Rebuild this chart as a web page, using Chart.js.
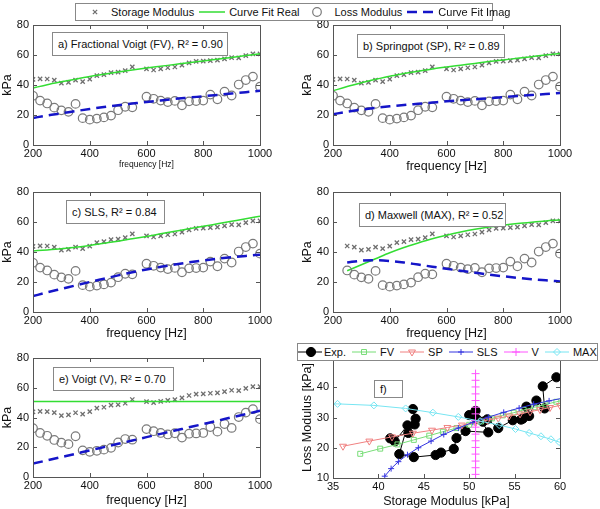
<!DOCTYPE html>
<html>
<head>
<meta charset="utf-8">
<script src="https://cdn.jsdelivr.net/npm/chart.js@4.4.0/dist/chart.umd.min.js"></script>
<style>
body { margin:0; background:#fff; width:600px; height:509px; position:relative; overflow:hidden; font-family:"Liberation Sans", Arial, sans-serif; color:#111; }
canvas { position:absolute; }
.note { position:absolute; background:#fff; border:1px solid #888; font-size:11px; box-sizing:border-box; padding-left:5px; white-space:nowrap; display:flex; align-items:center; z-index:2; }
.legend { position:absolute; background:#fff; border:1px solid #888; box-sizing:border-box; display:flex; align-items:center; font-size:11px; white-space:nowrap; z-index:3; }
.legend canvas { position:static; display:block; flex:none; }
.legend span { margin:0 3px 0 1px; }
</style>
</head>
<body>
<div id="legendTop" class="legend" style="left:75px;top:3px;width:418px;height:18px;padding-left:4px;"></div>
<div id="legendF" class="legend" style="left:297px;top:343px;width:301px;height:18px;"></div>
<script>
// measured data, 25 Hz steps (575 Hz missing)
const freq = [200,225,250,275,300,325,350,375,400,425,450,475,500,525,550,
              600,625,650,675,700,725,750,775,800,825,850,875,900,925,950,975,1000];
const storage = [43.8,44.1,44.0,43.3,41.3,41.8,43.2,42.3,43.9,46.3,46.9,48.3,48.6,49.6,52.1,
                 50.7,50.0,50.8,51.5,52.0,53.2,54.8,55.7,55.9,56.3,56.6,57.4,58.3,58.1,59.6,60.8,60.8];
const loss = [32.8,29.6,27.7,24.9,23.1,22.1,27.4,17.9,16.9,17.6,18.4,19.6,23.2,25.5,25.1,
              32.2,30.8,29.6,28.6,29.4,26.5,29.1,29.3,29.6,33.6,30.5,35.6,33.0,40.3,43.3,45.6,38.9];

// model fits, 50 Hz steps
const fitFreq = [200,250,300,350,400,450,500,550,600,650,700,750,800,850,900,950,1000];
const fvReal  = [38.0,40.2,42.1,43.9,45.6,47.1,48.6,50.0,51.3,52.5,53.7,54.9,56.0,57.2,58.4,59.6,60.8];
const fvImag  = [18.0,19.7,21.1,22.6,24.0,25.3,26.5,27.6,28.7,29.7,30.7,31.6,32.5,33.4,34.3,35.2,36.1];
const spReal  = [36.1,39.0,41.5,43.8,45.9,47.6,49.2,50.7,52.0,53.2,54.4,55.6,56.7,57.8,58.9,60.0,61.0];
const spImag  = [20.5,22.2,23.6,24.8,25.8,26.7,27.5,28.3,29.1,29.8,30.5,31.2,31.9,32.6,33.3,34.0,34.6];
const slsReal = [40.7,41.4,42.2,43.2,44.4,45.8,47.2,48.8,50.4,52.1,53.8,55.5,57.1,58.8,60.5,62.2,63.8];
const slsImag = [10.6,13.1,15.4,17.7,20.0,22.2,24.4,26.5,28.4,30.1,31.7,33.1,34.4,35.5,36.5,37.4,38.2];
const vReal   = [50.7,50.7,50.7,50.7,50.7,50.7,50.7,50.7,50.7,50.7,50.7,50.7,50.7,50.7,50.7,50.7,50.7];
const vImag   = [9.0,11.2,13.4,15.6,17.9,20.1,22.3,24.5,26.8,29.0,31.2,33.4,35.6,37.8,40.1,42.3,44.5];
const maxReal = [null,27.5,31.5,35.5,39.5,43.0,46.0,48.8,51.2,53.3,55.1,56.6,57.9,59.0,59.9,60.7,61.3];
const maxImag = [null,33.0,34.2,34.5,34.0,33.0,31.6,30.2,28.8,27.5,26.2,24.9,23.8,22.8,21.9,21.1,20.4];

const notes = ['a) Fractional Voigt (FV), R\u00b2 = 0.90', 'b) Springpot (SP), R\u00b2 = 0.89',
               'c) SLS, R\u00b2 = 0.84', 'd) Maxwell (MAX), R\u00b2 = 0.52', 'e) Voigt (V), R\u00b2 = 0.70', 'f)'];

const FONT = '"Liberation Sans", Arial, sans-serif';

function pairs(xs, ys) {
    let out = [];
    for (let i = 0; i < xs.length; i++) {
        if (xs[i] !== null && ys[i] !== null) out.push({x: xs[i], y: ys[i]});
    }
    return out;
}

// matlab style box with inward ticks
const boxPlugin = {
    id: 'box',
    afterDatasetsDraw(chart) {
        const {ctx, chartArea: a, scales} = chart;
        ctx.save();
        ctx.strokeStyle = '#555';
        ctx.lineWidth = 1;
        ctx.strokeRect(Math.round(a.left) + 0.5, Math.round(a.top) + 0.5, Math.round(a.width), Math.round(a.height));
        ctx.beginPath();
        for (let t of scales.x.ticks) {
            let px = Math.round(scales.x.getPixelForValue(t.value)) + 0.5;
            ctx.moveTo(px, a.bottom); ctx.lineTo(px, a.bottom - 4);
            ctx.moveTo(px, a.top); ctx.lineTo(px, a.top + 4);
        }
        for (let t of scales.y.ticks) {
            let py = Math.round(scales.y.getPixelForValue(t.value)) + 0.5;
            ctx.moveTo(a.left, py); ctx.lineTo(a.left + 4, py);
            ctx.moveTo(a.right, py); ctx.lineTo(a.right - 4, py);
        }
        ctx.stroke();
        ctx.restore();
    }
};

function modelSets(real, imag, start) {
    return [
        {label: 'Storage Modulus', data: pairs(freq.slice(start), storage.slice(start)), showLine: false,
         pointStyle: 'crossRot', pointRadius: 3, borderColor: '#6f6f6f', borderWidth: 1.3, order: 4},
        {label: 'Curve Fit Real', data: pairs(fitFreq, real), showLine: true, pointRadius: 0,
         borderColor: '#33dd33', borderWidth: 1.5, cubicInterpolationMode: 'monotone', order: 3},
        {label: 'Loss Modulus', data: pairs(freq.slice(start), loss.slice(start)), showLine: false,
         pointStyle: 'circle', pointRadius: 4.3, borderColor: '#7a7a7a', backgroundColor: 'rgba(0,0,0,0)', borderWidth: 1.2, order: 2},
        {label: 'Curve Fit Imag', data: pairs(fitFreq, imag), showLine: true, pointRadius: 0,
         borderColor: '#1515c8', borderWidth: 2.5, borderDash: [10, 6], cubicInterpolationMode: 'monotone', order: 1}
    ];
}

function makePanel(rect, datasets, xs, ys, noteRect, noteText) {
    const axisW = 33;
    let canvas = document.createElement('canvas');
    let w = 300;
    let h = rect.bottom - rect.top + 25 + rect.xh;
    canvas.width = w; canvas.height = h;
    canvas.style.left = (rect.left - axisW) + 'px';
    canvas.style.top = (rect.top - 25) + 'px';
    document.body.appendChild(canvas);

    let note = document.createElement('div');
    note.className = 'note';
    note.textContent = noteText;
    note.style.left = noteRect[0] + 'px'; note.style.top = noteRect[1] + 'px';
    note.style.width = noteRect[2] + 'px'; note.style.height = noteRect[3] + 'px';
    document.body.appendChild(note);

    const plain = v => String(v);
    return new Chart(canvas.getContext('2d'), {
        type: 'scatter',
        data: {datasets: datasets},
        options: {
            responsive: false, animation: false, devicePixelRatio: 1,
            layout: {padding: {top: 25, left: 0, bottom: 0, right: w - axisW - (rect.right - rect.left)}},
            plugins: {legend: {display: false}, tooltip: {enabled: false}},
            scales: {
                x: {type: 'linear', min: xs.min, max: xs.max,
                    ticks: {stepSize: xs.step, padding: 2, maxRotation: 0, color: '#111', callback: plain, font: {family: FONT, size: 11}},
                    grid: {display: false, drawTicks: false}, border: {display: false},
                    title: {display: true, text: xs.title, color: '#111', padding: 0, font: {family: FONT, size: xs.titleSize}},
                    afterFit: s => { s.height = rect.xh; }},
                y: {type: 'linear', min: ys.min, max: ys.max,
                    ticks: {stepSize: ys.step, padding: 4, color: '#111', callback: plain, font: {family: FONT, size: 11}},
                    grid: {display: false, drawTicks: false}, border: {display: false},
                    title: {display: true, text: ys.title, color: '#111', padding: 0, font: {family: FONT, size: 12.5}},
                    afterFit: s => { s.width = axisW; }}
            }
        },
        plugins: [boxPlugin]
    });
}

const freqAxis = {min: 200, max: 1000, step: 200, title: 'frequency [Hz]', titleSize: 12.5};
const kpaAxis = {min: 0, max: 80, step: 20, title: 'kPa'};

let chartA = makePanel({left: 33, right: 260, top: 25, bottom: 145, xh: 25}, modelSets(fvReal, fvImag, 0),
    Object.assign({}, freqAxis, {titleSize: 8.5}), kpaAxis, [52, 32, 176, 24], notes[0]);
makePanel({left: 333, right: 560, top: 25, bottom: 145, xh: 29}, modelSets(spReal, spImag, 0),
    freqAxis, kpaAxis, [357, 34, 148, 24], notes[1]);
makePanel({left: 33, right: 260, top: 192, bottom: 312, xh: 29}, modelSets(slsReal, slsImag, 0),
    freqAxis, kpaAxis, [66, 200, 99, 24], notes[2]);
makePanel({left: 333, right: 560, top: 192, bottom: 312, xh: 29}, modelSets(maxReal, maxImag, 2),
    freqAxis, kpaAxis, [359, 203, 147, 24], notes[3]);
makePanel({left: 33, right: 260, top: 358, bottom: 477, xh: 31}, modelSets(vReal, vImag, 0),
    freqAxis, kpaAxis, [53, 367, 121, 24], notes[4]);

const fSets = [
    {label: 'Exp.', data: pairs(storage, loss), showLine: true, borderColor: '#000', backgroundColor: '#000',
     borderWidth: 1, pointStyle: 'circle', pointRadius: 4.6, order: 6},
    {label: 'FV', data: pairs(fvReal, fvImag), showLine: true, borderColor: '#77dd77', backgroundColor: 'rgba(0,0,0,0)',
     borderWidth: 1, pointStyle: 'rect', pointRadius: 3.5, order: 5},
    {label: 'SP', data: pairs(spReal, spImag), showLine: true, borderColor: '#f08080', backgroundColor: 'rgba(0,0,0,0)',
     borderWidth: 1, pointStyle: 'triangle', rotation: 180, pointRadius: 4, order: 4},
    {label: 'SLS', data: pairs(slsReal, slsImag), showLine: true, borderColor: '#3535e0', backgroundColor: 'rgba(0,0,0,0)',
     borderWidth: 1, pointStyle: 'cross', pointRadius: 3, order: 3},
    {label: 'V', data: pairs(vReal, vImag), showLine: true, borderColor: '#ff55ff', backgroundColor: 'rgba(0,0,0,0)',
     borderWidth: 1, pointStyle: 'cross', pointRadius: 4, order: 2},
    {label: 'MAX', data: pairs(maxReal, maxImag), showLine: true, borderColor: '#77e5f2', backgroundColor: 'rgba(0,0,0,0)',
     borderWidth: 1, pointStyle: 'rectRot', pointRadius: 3.5, order: 1}
];
for (let ds of fSets) ds.clip = 0;

let chartF = makePanel({left: 333, right: 560, top: 357, bottom: 478, xh: 31}, fSets,
    {min: 35, max: 60, step: 5, title: 'Storage Modulus [kPa]', titleSize: 12.5},
    {min: 10, max: 50, step: 10, title: 'Loss Modulus [kPa]'}, [374, 380, 29, 18], notes[5]);

// html legends, sample glyphs drawn with chart.js point helper
function sample(ds, w, line, markerX) {
    let c = document.createElement('canvas');
    c.width = w; c.height = 16;
    let ctx = c.getContext('2d');
    ctx.strokeStyle = ds.borderColor;
    ctx.fillStyle = ds.backgroundColor || 'rgba(0,0,0,0)';
    ctx.lineWidth = ds.borderWidth;
    if (line) {
        ctx.save();
        ctx.setLineDash(ds.borderDash || []);
        ctx.beginPath(); ctx.moveTo(line[0], 8); ctx.lineTo(line[1], 8); ctx.stroke();
        ctx.restore();
    }
    if (markerX !== null && ds.pointRadius > 0) {
        Chart.helpers.drawPoint(ctx, {pointStyle: ds.pointStyle, rotation: ds.rotation || 0,
            radius: ds.pointRadius, borderWidth: ds.borderWidth}, markerX, 8);
    }
    return c;
}

function buildLegend(el, items) {
    for (let it of items) {
        el.appendChild(sample(it.ds, it.w, it.line, it.mx));
        let s = document.createElement('span');
        s.textContent = it.ds.label;
        el.appendChild(s);
    }
}

const aSets = chartA.data.datasets;
buildLegend(document.getElementById('legendTop'), [
    {ds: aSets[0], w: 30, line: null, mx: 15},
    {ds: aSets[1], w: 31, line: [2, 28], mx: null},
    {ds: aSets[2], w: 31, line: null, mx: 15},
    {ds: aSets[3], w: 32, line: [2, 30], mx: null}
]);
buildLegend(document.getElementById('legendF'), [
    {ds: fSets[0], w: 25, line: [0, 24], mx: 13},
    {ds: fSets[1], w: 30, line: [3, 27], mx: 15},
    {ds: fSets[2], w: 30, line: [3, 27], mx: 15},
    {ds: fSets[3], w: 30, line: [3, 27], mx: 15},
    {ds: fSets[4], w: 30, line: [3, 27], mx: 15},
    {ds: fSets[5], w: 30, line: [3, 27], mx: 15}
]);
</script>
</body>
</html>
